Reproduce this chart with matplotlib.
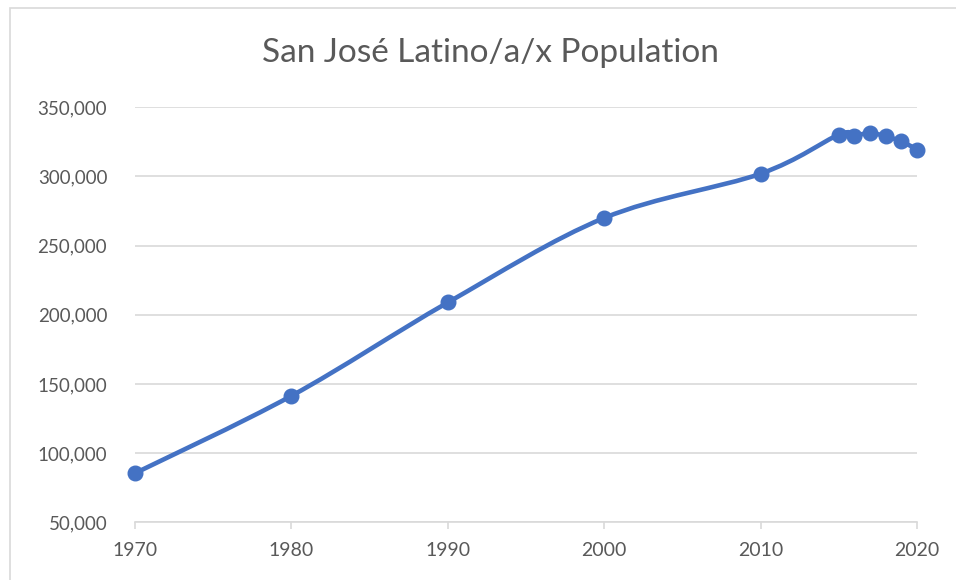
import numpy as np
import matplotlib
matplotlib.use("Agg")
import matplotlib.pyplot as plt
from matplotlib.path import Path
from matplotlib.patches import PathPatch, Rectangle
from matplotlib.ticker import FuncFormatter, MultipleLocator

# data
years = [1970, 1980, 1990, 2000, 2010, 2015, 2016, 2017, 2018, 2019, 2020]
population = [85500, 141400, 208900, 270000, 302000, 330200, 329500,
              331500, 329000, 325400, 319400]

title = "San José Latino/a/x Population"
line_color = "#4472C4"
text_color = "#595959"
grid_color = "#D9D9D9"

plt.rcParams['font.family'] = ['Lato', 'DejaVu Sans']


def smooth_path(xs, ys):
    """Excel-style smoothed line: cubic Bezier through the points."""
    pts = np.column_stack([xs, ys]).astype(float)
    n = len(pts)
    verts = [pts[0]]
    codes = [Path.MOVETO]
    for i in range(n - 1):
        p0 = pts[i - 1] if i > 0 else pts[i]
        p1 = pts[i]
        p2 = pts[i + 1]
        p3 = pts[i + 2] if i + 2 < n else pts[i + 1]
        c1 = p1 + (p2 - p0) / 6.0
        c2 = p2 - (p3 - p1) / 6.0
        verts += [c1, c2, p2]
        codes += [Path.CURVE4] * 3
    return Path(verts, codes)


fig = plt.figure(figsize=(9.56, 5.8), dpi=100)
W, H = 956, 580
ax = fig.add_axes([135 / W, (H - 522.3) / H, (917 - 135) / W, (522.3 - 107.3) / H])

# chart border
fig.patches.append(Rectangle((10 / W, -0.1), 1.2, (H - 8) / H + 0.1,
                             transform=fig.transFigure, fill=False,
                             edgecolor=grid_color, linewidth=1.2))

ax.add_patch(PathPatch(smooth_path(years, population), facecolor='none',
                       edgecolor=line_color, linewidth=3.3,
                       capstyle='round', joinstyle='round', zorder=3))
ax.plot(years, population, linestyle='none', marker='o', markersize=10.5,
        color=line_color, zorder=4, clip_on=False)

ax.set_xlim(1970, 2020)
ax.set_ylim(50000, 350000)
ax.xaxis.set_major_locator(MultipleLocator(10))
ax.yaxis.set_major_locator(MultipleLocator(50000))
ax.yaxis.set_major_formatter(FuncFormatter(lambda v, p: f"{int(v):,}"))

ax.grid(axis='y', color=grid_color, linewidth=1.2)
ax.set_axisbelow(True)
for s in ['top', 'right', 'left']:
    ax.spines[s].set_visible(False)
ax.spines['bottom'].set_color(grid_color)
ax.spines['bottom'].set_linewidth(1.2)
ax.tick_params(axis='x', colors=grid_color, length=5, width=1.2,
               labelcolor=text_color, labelsize=14, pad=9)
ax.tick_params(axis='y', length=0, labelcolor=text_color, labelsize=13.5, pad=20)

fig.text(490 / W, (H - 53) / H, title, ha='center', va='center',
         fontsize=24, color=text_color)

fig.savefig("out.png", dpi=100)
